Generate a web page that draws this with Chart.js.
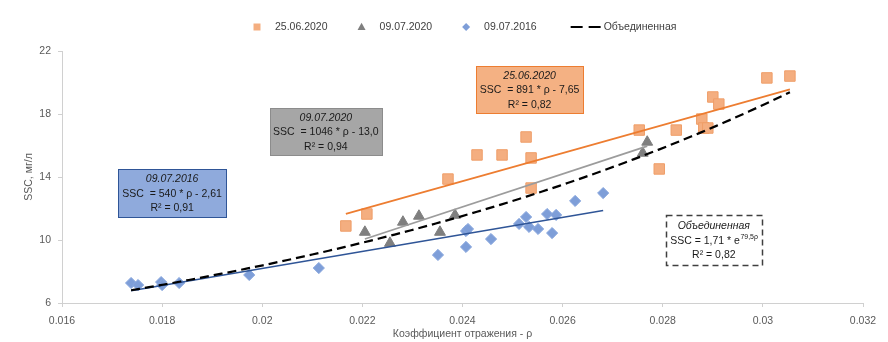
<!DOCTYPE html>
<html>
<head>
<meta charset="utf-8">
<script src="https://cdn.jsdelivr.net/npm/chart.js@4.4.1/dist/chart.umd.min.js"></script>
<style>
  html, body { margin: 0; padding: 0; background: #ffffff; }
  #wrap { width: 888px; height: 342px; position: relative; }
</style>
</head>
<body>
<div id="wrap"><canvas id="c" width="888" height="342"></canvas></div>
<script>
// Reflectance ρ and suspended sediment concentration (SSC, мг/л) for each survey
const rho25062020 = [0.02167, 0.02209, 0.02371, 0.02429, 0.02479, 0.02527, 0.02537, 0.02537,
                     0.02753, 0.02793, 0.02827, 0.02878, 0.02882, 0.02890, 0.02900, 0.02912,
                     0.03008, 0.03054];
const ssc25062020 = [10.89, 11.65, 13.87, 15.40, 15.40, 16.54, 15.21, 13.30,
                     16.98, 14.51, 16.98, 17.68, 17.11, 17.11, 19.08, 18.63,
                     20.29, 20.41];

const rho09072020 = [0.02205, 0.02255, 0.02281, 0.02313, 0.02355, 0.02385, 0.02760, 0.02769];
const ssc09072020 = [10.50, 9.80, 11.14, 11.52, 10.50, 11.58, 15.52, 16.22];

const rho09072016 = [0.01738, 0.01752, 0.01798, 0.01800, 0.01834, 0.01974, 0.02113, 0.02351,
                     0.02407, 0.02411, 0.02407, 0.02457, 0.02513, 0.02527, 0.02533, 0.02551,
                     0.02569, 0.02579, 0.02587, 0.02625, 0.02681];
const ssc09072016 = [7.27, 7.14, 7.33, 7.14, 7.27, 7.78, 8.22, 9.05,
                     10.57, 10.70, 9.56, 10.06, 11.02, 11.46, 10.83, 10.70,
                     11.65, 10.44, 11.59, 12.48, 12.98];

// Regression fits: linear SSC = a·ρ + b, combined SSC = a·e^(bρ)
const fit25062020 = [891, -7.65];
const fit09072020 = [1046, -13.0];
const fit09072016 = [540, -2.61];
const fitCombined = [1.71, 79.5];
const r2Values = [0.82, 0.94, 0.91, 0.82];

const seriesLabels = ['25.06.2020', '09.07.2020', '09.07.2016', 'Объединенная'];

// Axis ticks
const xTickValues = [0.016, 0.018, 0.020, 0.022, 0.024, 0.026, 0.028, 0.030, 0.032];
const xTickLabels = ['0.016', '0.018', '0.02', '0.022', '0.024', '0.026', '0.028', '0.03', '0.032'];
const yTickValues = [6, 10, 14, 18, 22];
const yTickLabels = ['6', '10', '14', '18', '22'];

const FONT = '"Liberation Sans", Arial, sans-serif';
const FS = 10.5;

function pts(xs, ys) { return xs.map((x, i) => ({ x: x, y: ys[i] })); }
function linFit(coef, xs) {
  const lo = Math.min(...xs), hi = Math.max(...xs);
  return [{ x: lo, y: coef[0] * lo + coef[1] }, { x: hi, y: coef[0] * hi + coef[1] }];
}
function expFit(coef, xs, steps) {
  const lo = Math.min(...xs), hi = Math.max(...xs);
  const out = [];
  for (let i = 0; i <= steps; i++) {
    const x = lo + (hi - lo) * i / steps;
    out.push({ x: x, y: coef[0] * Math.exp(coef[1] * x) });
  }
  return out;
}
function dec(v, d) { return Math.abs(v).toFixed(d).replace('.', ','); }

const allRho = rho25062020.concat(rho09072020, rho09072016);

const colors = {
  orangeFill: '#F4AE80', orangeEdge: '#EF9E68', orangeLine: '#ED7D31',
  grayFill: '#7F7F7F', grayLine: '#9C9C9C',
  blueFill: '#7E9ED8', blueEdge: '#8AA8DE', blueLine: '#2F5597'
};

const datasets = [
  { label: 'Объединенная', data: expFit(fitCombined, allRho, 80), showLine: true, pointRadius: 0,
    borderColor: '#000000', borderWidth: 2.25, borderDash: [9, 5], fill: false, tension: 0 },
  { label: 'trend 25.06.2020', data: linFit(fit25062020, rho25062020), showLine: true, pointRadius: 0,
    borderColor: colors.orangeLine, borderWidth: 1.75, fill: false },
  { label: 'trend 09.07.2020', data: linFit(fit09072020, rho09072020), showLine: true, pointRadius: 0,
    borderColor: colors.grayLine, borderWidth: 1.75, fill: false },
  { label: 'trend 09.07.2016', data: linFit(fit09072016, rho09072016), showLine: true, pointRadius: 0,
    borderColor: colors.blueLine, borderWidth: 1.5, fill: false },
  { label: '09.07.2016', data: pts(rho09072016, ssc09072016), pointStyle: 'rectRot', pointRadius: 5.6,
    backgroundColor: colors.blueFill, borderColor: colors.blueEdge, borderWidth: 1, showLine: false },
  { label: '09.07.2020', data: pts(rho09072020, ssc09072020), pointStyle: 'triangle', pointRadius: 6.3,
    backgroundColor: colors.grayFill, borderColor: colors.grayFill, borderWidth: 1, showLine: false },
  { label: '25.06.2020', data: pts(rho25062020, ssc25062020), pointStyle: 'rect', pointRadius: 7.4,
    backgroundColor: colors.orangeFill, borderColor: colors.orangeEdge, borderWidth: 1, showLine: false }
];

// Equation boxes, anchored at data coordinates (box centre)
const eqBoxes = [
  { x: 0.0182, y: 13.0, w: 108, h: 48, fill: '#8FAADC', stroke: '#2F5597', dash: [],
    lines: [{ t: seriesLabels[2], italic: true },
            { t: 'SSC  = ' + fit09072016[0] + ' * ρ - ' + dec(fit09072016[1], 2) },
            { t: 'R² = ' + dec(r2Values[2], 2) }] },
  { x: 0.02127, y: 16.9, w: 112, h: 47, fill: '#A6A6A6', stroke: '#8C8C8C', dash: [],
    lines: [{ t: seriesLabels[1], italic: true },
            { t: 'SSC  = ' + fit09072020[0] + ' * ρ - ' + dec(fit09072020[1], 1) },
            { t: 'R² = ' + dec(r2Values[1], 2) }] },
  { x: 0.02534, y: 19.56, w: 107, h: 47, fill: '#F4B183', stroke: '#ED7D31', dash: [],
    lines: [{ t: seriesLabels[0], italic: true },
            { t: 'SSC  = ' + fit25062020[0] + ' * ρ - ' + dec(fit25062020[1], 2) },
            { t: 'R² = ' + dec(r2Values[0], 2) }] },
  { x: 0.02902, y: 10.0, w: 96, h: 50, fill: '#FFFFFF', stroke: '#404040', dash: [6, 4],
    lines: [{ t: seriesLabels[3], italic: true },
            { t: 'SSC = ' + dec(fitCombined[0], 2) + ' * e', sup: dec(fitCombined[1], 1) + 'ρ' },
            { t: 'R² = ' + dec(r2Values[3], 2) }] }
];

const eqBoxPlugin = {
  id: 'eqBoxes',
  afterDatasetsDraw(chart) {
    const ctx = chart.ctx, xs = chart.scales.x, ys = chart.scales.y;
    ctx.save();
    eqBoxes.forEach(b => {
      const cx = xs.getPixelForValue(b.x), cy = ys.getPixelForValue(b.y);
      const l = Math.round(cx - b.w / 2) + 0.5, t = Math.round(cy - b.h / 2) + 0.5;
      ctx.fillStyle = b.fill;
      ctx.fillRect(l, t, b.w, b.h);
      ctx.setLineDash(b.dash);
      ctx.lineWidth = b.dash.length ? 1.5 : 1;
      ctx.strokeStyle = b.stroke;
      ctx.strokeRect(l, t, b.w, b.h);
      ctx.setLineDash([]);
      ctx.fillStyle = '#1A1A1A';
      ctx.textBaseline = 'middle';
      b.lines.forEach((ln, i) => {
        const ly = cy + 1 + (i - 1) * 14.5;
        ctx.font = (ln.italic ? 'italic ' : '') + FS + 'px ' + FONT;
        const w1 = ctx.measureText(ln.t).width;
        let w2 = 0;
        const supFont = '7px ' + FONT;
        if (ln.sup) { ctx.font = supFont; w2 = ctx.measureText(ln.sup).width; }
        const sx = cx - (w1 + w2) / 2;
        ctx.font = (ln.italic ? 'italic ' : '') + FS + 'px ' + FONT;
        ctx.textAlign = 'left';
        ctx.fillText(ln.t, sx, ly);
        if (ln.sup) { ctx.font = supFont; ctx.fillText(ln.sup, sx + w1 + 0.5, ly - 4); }
      });
    });
    ctx.restore();
  }
};

// Series key along the top
const keyEntries = [
  { ds: 6, kind: 'rect' }, { ds: 5, kind: 'triangle' }, { ds: 4, kind: 'diamond' }, { ds: 0, kind: 'line' }
];
const seriesKeyPlugin = {
  id: 'seriesKey',
  afterDraw(chart) {
    const ctx = chart.ctx;
    ctx.save();
    ctx.font = FS + 'px ' + FONT;
    ctx.textBaseline = 'middle';
    ctx.textAlign = 'left';
    const y = 27;
    let x = 257;
    keyEntries.forEach(e => {
      const d = chart.data.datasets[e.ds];
      if (e.kind === 'line') x += 15;
      ctx.fillStyle = d.backgroundColor || d.borderColor;
      ctx.beginPath();
      if (e.kind === 'rect') {
        ctx.rect(x - 3.5, y - 3.5, 7, 7); ctx.fill();
      } else if (e.kind === 'triangle') {
        ctx.moveTo(x, y - 4.2); ctx.lineTo(x + 4, y + 3); ctx.lineTo(x - 4, y + 3); ctx.closePath(); ctx.fill();
      } else if (e.kind === 'diamond') {
        ctx.moveTo(x, y - 4); ctx.lineTo(x + 4, y); ctx.lineTo(x, y + 4); ctx.lineTo(x - 4, y); ctx.closePath(); ctx.fill();
      } else {
        ctx.strokeStyle = d.borderColor; ctx.lineWidth = 2; ctx.setLineDash([12, 6]);
        ctx.moveTo(x - 15, y); ctx.lineTo(x + 15, y); ctx.stroke(); ctx.setLineDash([]);
      }
      ctx.fillStyle = '#404040';
      const label = d.label;
      const tx = x + 18;
      ctx.fillText(label, tx, y);
      x = tx + ctx.measureText(label).width + 34;
    });
    ctx.restore();
  }
};

const axisGrid = { display: true, drawOnChartArea: false, drawTicks: true, tickLength: 4, color: '#D0D0D0' };

new Chart(document.getElementById('c'), {
  type: 'scatter',
  data: { datasets: datasets },
  options: {
    responsive: false,
    animation: false,
    events: [],
    layout: { padding: { left: 0, top: 51, right: 25, bottom: 0 } },
    plugins: { legend: { display: false }, tooltip: { enabled: false } },
    scales: {
      x: {
        type: 'linear', min: 0.016, max: 0.032,
        afterBuildTicks: s => { s.ticks = xTickValues.map(v => ({ value: v })); },
        afterFit: s => { s.height = 39; },
        ticks: { callback: (v, i) => xTickLabels[i], color: '#595959', font: { family: FONT, size: FS }, padding: 8, maxRotation: 0, autoSkip: false },
        grid: axisGrid,
        border: { display: true, color: '#D0D0D0', width: 1 },
        title: { display: true, text: 'Коэффициент отражения - ρ', color: '#595959', font: { family: FONT, size: FS }, padding: { top: 1.5, bottom: 1.5 } }
      },
      y: {
        type: 'linear', min: 6, max: 22,
        afterBuildTicks: s => { s.ticks = yTickValues.map(v => ({ value: v })); },
        afterFit: s => { s.width = 62; },
        ticks: { callback: (v, i) => yTickLabels[i], color: '#595959', font: { family: FONT, size: FS }, padding: 7 },
        grid: axisGrid,
        border: { display: true, color: '#D0D0D0', width: 1 },
        title: { display: true, text: 'SSC, мг/л', color: '#595959', font: { family: FONT, size: FS }, padding: { top: 23, bottom: 0 } }
      }
    }
  },
  plugins: [eqBoxPlugin, seriesKeyPlugin]
});
</script>
</body>
</html>
